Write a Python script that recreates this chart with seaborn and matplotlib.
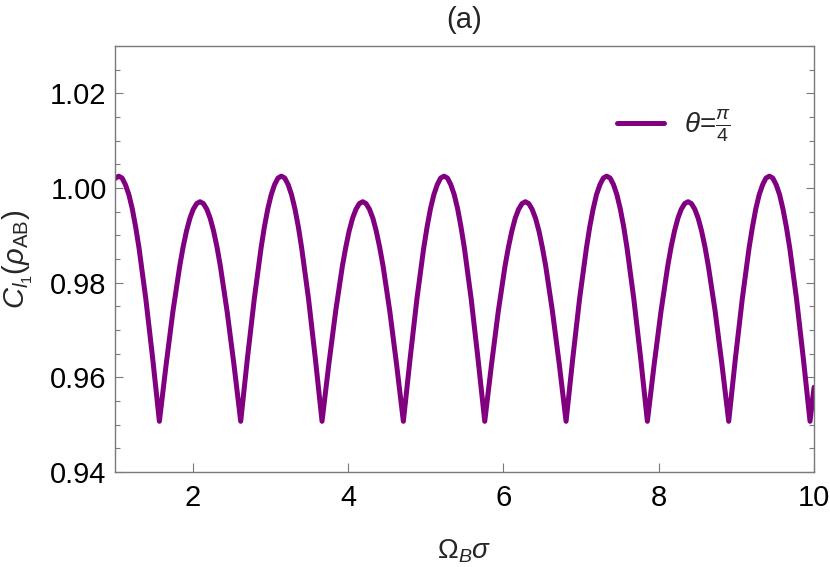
import matplotlib
matplotlib.use("Agg")
import matplotlib.pyplot as plt
import pandas as pd
import seaborn as sns
from matplotlib.ticker import MultipleLocator, FixedLocator

# values (theta = pi/4), one row per arch
omega_sigma = [
    1.000, 1.047, 1.091, 1.134, 1.178, 1.222, 1.265, 1.309, 1.396, 1.484, 1.571,
    1.658, 1.745, 1.833, 1.876, 1.920, 1.964, 2.007, 2.051, 2.094,
    2.138, 2.182, 2.225, 2.269, 2.313, 2.356, 2.443, 2.531, 2.618,
    2.705, 2.793, 2.880, 2.923, 2.967, 3.011, 3.054, 3.098, 3.142,
    3.185, 3.229, 3.272, 3.316, 3.360, 3.403, 3.491, 3.578, 3.665,
    3.752, 3.840, 3.927, 3.971, 4.014, 4.058, 4.102, 4.145, 4.189,
    4.232, 4.276, 4.320, 4.363, 4.407, 4.451, 4.538, 4.625, 4.712,
    4.800, 4.887, 4.974, 5.018, 5.061, 5.105, 5.149, 5.192, 5.236,
    5.280, 5.323, 5.367, 5.411, 5.454, 5.498, 5.585, 5.672, 5.760,
    5.847, 5.934, 6.021, 6.065, 6.109, 6.152, 6.196, 6.240, 6.283,
    6.327, 6.370, 6.414, 6.458, 6.501, 6.545, 6.632, 6.720, 6.807,
    6.894, 6.981, 7.069, 7.112, 7.156, 7.199, 7.243, 7.287, 7.330,
    7.374, 7.418, 7.461, 7.505, 7.549, 7.592, 7.679, 7.767, 7.854,
    7.941, 8.029, 8.116, 8.159, 8.203, 8.247, 8.290, 8.334, 8.378,
    8.421, 8.465, 8.508, 8.552, 8.596, 8.639, 8.727, 8.814, 8.901,
    8.988, 9.076, 9.163, 9.207, 9.250, 9.294, 9.338, 9.381, 9.425,
    9.468, 9.512, 9.556, 9.599, 9.643, 9.687, 9.774, 9.861, 9.948,
    10.000,
]

coherence = [
    1.0020, 1.0025, 1.0021, 1.0007, 0.9986, 0.9956, 0.9918, 0.9873, 0.9766, 0.9641, 0.9507,
    0.9627, 0.9739, 0.9835, 0.9875, 0.9909, 0.9936, 0.9955, 0.9967, 0.9971,
    0.9967, 0.9955, 0.9936, 0.9909, 0.9875, 0.9835, 0.9739, 0.9627, 0.9507,
    0.9641, 0.9766, 0.9873, 0.9918, 0.9956, 0.9986, 1.0007, 1.0021, 1.0025,
    1.0021, 1.0007, 0.9986, 0.9956, 0.9918, 0.9873, 0.9766, 0.9641, 0.9507,
    0.9627, 0.9739, 0.9835, 0.9875, 0.9909, 0.9936, 0.9955, 0.9967, 0.9971,
    0.9967, 0.9955, 0.9936, 0.9909, 0.9875, 0.9835, 0.9739, 0.9627, 0.9507,
    0.9641, 0.9766, 0.9873, 0.9918, 0.9956, 0.9986, 1.0007, 1.0021, 1.0025,
    1.0021, 1.0007, 0.9986, 0.9956, 0.9918, 0.9873, 0.9766, 0.9641, 0.9507,
    0.9627, 0.9739, 0.9835, 0.9875, 0.9909, 0.9936, 0.9955, 0.9967, 0.9971,
    0.9967, 0.9955, 0.9936, 0.9909, 0.9875, 0.9835, 0.9739, 0.9627, 0.9507,
    0.9641, 0.9766, 0.9873, 0.9918, 0.9956, 0.9986, 1.0007, 1.0021, 1.0025,
    1.0021, 1.0007, 0.9986, 0.9956, 0.9918, 0.9873, 0.9766, 0.9641, 0.9507,
    0.9627, 0.9739, 0.9835, 0.9875, 0.9909, 0.9936, 0.9955, 0.9967, 0.9971,
    0.9967, 0.9955, 0.9936, 0.9909, 0.9875, 0.9835, 0.9739, 0.9627, 0.9507,
    0.9641, 0.9766, 0.9873, 0.9918, 0.9956, 0.9986, 1.0007, 1.0021, 1.0025,
    1.0021, 1.0007, 0.9986, 0.9956, 0.9918, 0.9873, 0.9766, 0.9641, 0.9507,
    0.9579,
]

x_ticks = [2, 4, 6, 8, 10]
y_ticks = [0.94, 0.96, 0.98, 1.00, 1.02]
series_label = r"$\theta$=$\frac{\pi}{4}$"

sns.set_theme(style="white")
plt.rcParams["font.family"] = ["Liberation Sans", "DejaVu Sans"]
plt.rcParams["mathtext.fontset"] = "custom"
plt.rcParams["mathtext.rm"] = "Liberation Sans"
plt.rcParams["mathtext.it"] = "Liberation Sans:italic"
plt.rcParams["mathtext.bf"] = "Liberation Sans:bold"

df = pd.DataFrame({"x": omega_sigma, "y": coherence})

fig = plt.figure(figsize=(8.3, 5.67), dpi=100)
ax = fig.add_axes([0.1386, 0.1676, 0.8422, 0.7513])

sns.lineplot(data=df, x="x", y="y", sort=False, estimator=None,
             color="#800080", linewidth=3.6, label=series_label, ax=ax)
ax.lines[0].set_solid_joinstyle("round")

ax.set_xlim(1, 10)
ax.set_ylim(0.94, 1.03)
ax.xaxis.set_major_locator(FixedLocator(x_ticks))
ax.yaxis.set_major_locator(FixedLocator(y_ticks))
ax.yaxis.set_minor_locator(MultipleLocator(0.005))
ax.set_yticklabels([f"{v:.2f}" for v in y_ticks])
ax.set_xticklabels([str(v) for v in x_ticks])

frame = "#7a7a7a"
for s in ax.spines.values():
    s.set_visible(True)
    s.set_color(frame)
    s.set_linewidth(1.0)

ax.tick_params(axis="both", which="both", direction="in", color=frame,
               labelcolor="black", width=0.8)
ax.tick_params(axis="y", which="major", length=6, left=True, right=True,
               labelsize=21, pad=6)
ax.tick_params(axis="y", which="minor", length=3.5, left=True, right=True)
ax.tick_params(axis="x", which="major", length=6.5, bottom=True, top=False,
               labelsize=21, pad=9)

ax.set_xlabel(r"$\Omega_B\sigma$", fontsize=20)
ax.set_ylabel(r"$C_{l_1}(\rho_{\mathrm{AB}})$", fontsize=21)
ax.xaxis.set_label_coords(0.5, -0.155)
ax.yaxis.set_label_coords(-0.115, 0.5)

ax.set_title("(a)", fontsize=21, pad=13)

ax.legend(loc="center left", bbox_to_anchor=(0.718, 0.812), frameon=False,
          fontsize=20, handlelength=1.7, handletextpad=0.7,
          borderaxespad=0, borderpad=0)

fig.savefig("out.png", dpi=100)
